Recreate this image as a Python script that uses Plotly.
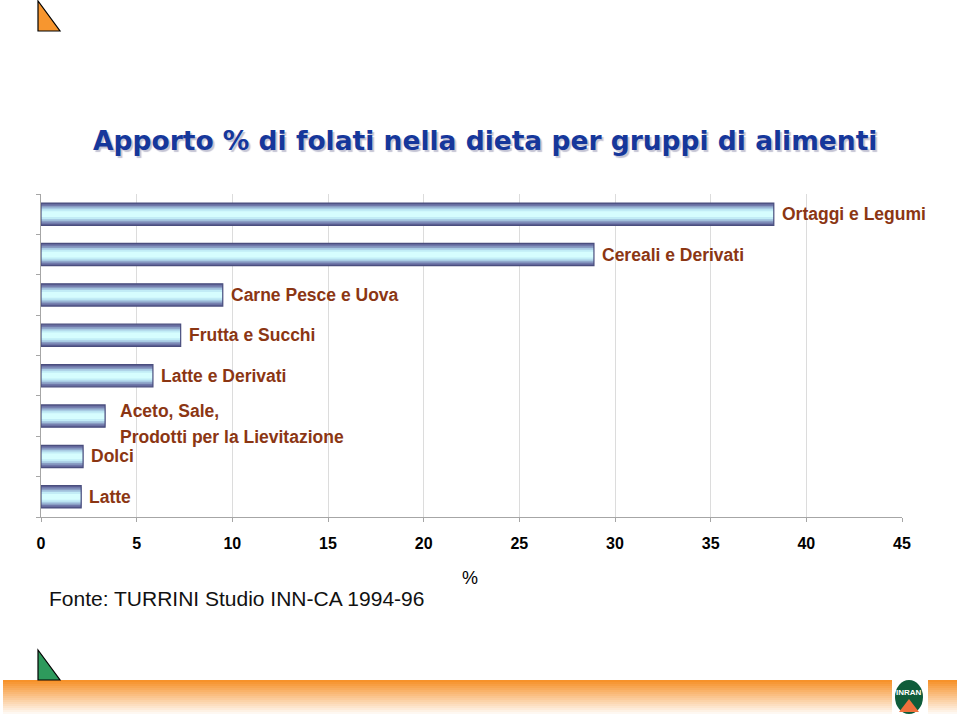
import plotly.graph_objects as go

# ---- data ----
categories = ["Latte", "Dolci", "Aceto, Sale,<br>Prodotti per la Lievitazione",
              "Latte e Derivati", "Frutta e Succhi", "Carne Pesce e Uova",
              "Cereali e Derivati", "Ortaggi e Legumi"]
values = [2.1, 2.2, 3.35, 5.85, 7.3, 9.5, 28.9, 38.3]
x_ticks = [0, 5, 10, 15, 20, 25, 30, 35, 40, 45]
title_text = "Apporto % di folati nella dieta per gruppi di alimenti"
source_text = "Fonte: TURRINI Studio INN-CA 1994-96"
x_title = "%"

W, H = 960, 716
L, R, T, B = 41, 58, 194, 199
PW, PH = W - L - R, H - T - B

def px(x):
    return (x - L) / PW

def py(y):
    return 1 - (y - T) / PH

fig = go.Figure()

# gradient-like bars via overlaid layers
layers = [(0.55, "#5f6397"), (0.48, "#7079aa"), (0.41, "#8a9ec4"),
          (0.33, "#a8cbe3"), (0.24, "#c2ecf6"), (0.14, "#d6fdfe")]
for w, c in layers:
    fig.add_trace(go.Bar(x=values, y=categories, orientation="h", width=w,
                         marker=dict(color=c, line=dict(width=0)),
                         hoverinfo="skip", showlegend=False))
fig.add_trace(go.Bar(x=values, y=categories, orientation="h", width=0.55,
                     marker=dict(color="rgba(0,0,0,0)",
                                 line=dict(color="#4a4e7e", width=1.2)),
                     hoverinfo="skip", showlegend=False))

label_color = "#8B3613"
label_font = dict(family="Liberation Sans, Arial", size=17.5, color=label_color)
annotations = []
extra = {2: (13, 5)}
for i, (cat, v) in enumerate(zip(categories, values)):
    lines = cat.split("<br>")
    xs, ys0 = extra.get(i, (6, 0))
    for j, ln in enumerate(lines):
        annotations.append(dict(x=v, y=cat, xref="x", yref="y", text="<b>" + ln + "</b>",
                                showarrow=False, xanchor="left", yanchor="middle",
                                xshift=xs, yshift=ys0 - 26 * j, font=label_font))

# title with shadow
annotations.append(dict(x=px(484.5), y=py(141), xref="paper", yref="paper",
                        text="<b>" + title_text + "</b>", showarrow=False,
                        xanchor="center", yanchor="middle",
                        font=dict(family="DejaVu Sans", size=26.5, color="#16379B",
                                  shadow="2px 2px 1px #c4c4d4")))
annotations.append(dict(x=px(470), y=py(578), xref="paper", yref="paper", text=x_title,
                        showarrow=False, xanchor="center", yanchor="middle",
                        font=dict(family="Liberation Sans, Arial", size=18, color="black")))
annotations.append(dict(x=px(47), y=py(598), xref="paper", yref="paper", text=source_text,
                        showarrow=False, xanchor="left", yanchor="middle",
                        font=dict(family="Liberation Sans, Arial", size=21, color="#111")))
annotations.append(dict(x=px(909), y=py(692), xref="paper", yref="paper", text="<b>INRAN</b>",
                        showarrow=False, xanchor="center", yanchor="middle",
                        font=dict(family="Liberation Sans Narrow, Liberation Sans", size=8, color="white")))

shapes = []
# bottom orange gradient band
n = 18
top_c = (247, 146, 42)
for k in range(n):
    f = k / (n - 1)
    c = tuple(int(top_c[m] + (255 - top_c[m]) * f) for m in range(3))
    y0 = 680 + k * 2
    shapes.append(dict(type="rect", xref="paper", yref="paper",
                       x0=px(3), x1=px(957), y0=py(y0), y1=py(y0 + 2),
                       line=dict(width=0), fillcolor="rgb(%d,%d,%d)" % c, layer="below"))
# logo
shapes.append(dict(type="rect", xref="paper", yref="paper", x0=px(892), x1=px(928),
                   y0=py(679), y1=py(716), line=dict(width=0), fillcolor="white"))
shapes.append(dict(type="circle", xref="paper", yref="paper", x0=px(895), x1=px(923),
                   y0=py(680), y1=py(714), line=dict(width=0), fillcolor="#0f5c3a"))
shapes.append(dict(type="path", xref="paper", yref="paper",
                   path="M %f %f L %f %f L %f %f Z" % (px(909), py(699), px(899), py(712), px(919), py(712)),
                   line=dict(width=0), fillcolor="#f0703c"))
# triangles
def tri(y_top, y_bot, color):
    return dict(type="path", xref="paper", yref="paper",
                path="M %f %f L %f %f L %f %f Z" % (px(38), py(y_top), px(38), py(y_bot), px(60), py(y_bot)),
                line=dict(color="black", width=1.2), fillcolor=color)
shapes.append(tri(1, 31, "#F7962F"))
shapes.append(tri(650, 680, "#2E9A5C"))

fig.update_layout(
    width=W, height=H, margin=dict(l=L, r=R, t=T, b=B),
    paper_bgcolor="white", plot_bgcolor="white", barmode="overlay",
    showlegend=False, annotations=annotations, shapes=shapes,
    xaxis=dict(range=[0, 45], tickvals=x_ticks, showgrid=True, gridcolor="#dcdcdc",
               gridwidth=1, zeroline=False, showline=True, linecolor="#a6a6a6",
               ticks="outside", ticklen=4, tickcolor="#a6a6a6", ticklabelstandoff=8,
               tickfont=dict(family="Liberation Sans, Arial", size=16, color="black", weight="bold")),
    yaxis=dict(type="category", range=[-0.5, 7.5], showticklabels=False, showgrid=False,
               zeroline=False, showline=True, linecolor="#a6a6a6", ticks="outside",
               tickson="boundaries", ticklen=4, tickcolor="#a6a6a6"),
)

fig.write_html("out.html", config={"displayModeBar": False},
               post_script="document.body.style.margin='0px';document.body.style.overflow='hidden';")
